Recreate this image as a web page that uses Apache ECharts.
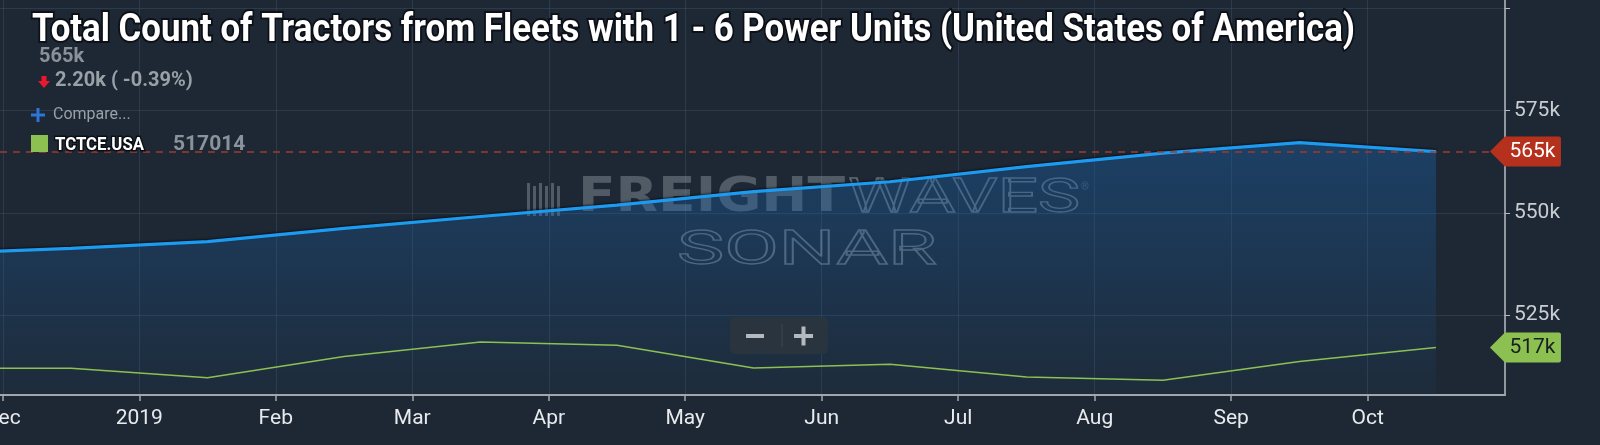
<!DOCTYPE html>
<html>
<head>
<meta charset="utf-8">
<script src="https://cdn.jsdelivr.net/npm/echarts@6/dist/echarts.min.js"></script>
<style>
  html, body { margin: 0; padding: 0; background: #1e2834; }
  #chart { width: 1600px; height: 445px; }
</style>
</head>
<body>
<div id="chart"></div>
<script>
// month tick labels, placed at slot 0..10
const monthLabels = ['Dec', '2019', 'Feb', 'Mar', 'Apr', 'May', 'Jun', 'Jul', 'Aug', 'Sep', 'Oct']
const monthTicks = [0, 1, 2, 3, 4, 5, 6, 7, 8, 9, 10]
// monthly readings sit mid-slot (Nov 2018 .. Oct 2019)
const slots = [-0.5, 0.5, 1.5, 2.5, 3.5, 4.5, 5.5, 6.5, 7.5, 8.5, 9.5, 10.5]
const tractorCount = [540000, 541300, 542950, 546200, 549100, 551900, 555200, 557600, 561300, 564600, 567200, 565000]
const tctceCount = [511900, 511950, 509650, 514800, 518400, 517600, 512000, 512900, 509800, 509000, 513600, 517014]
const yLabelTicks = [525000, 550000, 575000]
const yGridTicks = [525000, 550000, 575000, 600000]

const BG = '#1e2834'
const GRID_LINE = 'rgba(70, 95, 120, 0.35)'
const BLUE = '#1c9bf0'
const GREEN = '#8cc152'
const RED_TAG = '#b5311e'

const chart = echarts.init(document.getElementById('chart'), null, { renderer: 'canvas' })

function measure(text, font) {
  const ctx = document.createElement('canvas').getContext('2d')
  ctx.font = font
  return ctx.measureText(text).width
}

const kFmt = (v) => Math.round(v / 1000) + 'k'

const blueLast = tractorCount[tractorCount.length - 1]
const bluePrev = tractorCount[tractorCount.length - 2]
const diff = blueLast - bluePrev
const pct = diff / bluePrev * 100
const changeText = `${(Math.abs(diff) / 1000).toFixed(2)}k ( ${pct.toFixed(2)}%)`
const greenLast = tctceCount[tctceCount.length - 1]

const titleText = 'Total Count of Tractors from Fleets with 1 - 6 Power Units (United States of America)'
const titleFont = 'bold 39px Roboto'
const titleScale = 1323 / measure(titleText, titleFont)

const fwFont = 'bold 48px "DejaVu Sans"'
const fwScale = 267 / measure('FREIGHT', fwFont)
const wavesFont = 'normal 49px Roboto'
const wavesScale = 232 / measure('WAVES', wavesFont)
const sonarScale = 260 / measure('SONAR', wavesFont)

const legendFont = 'bold 18px Roboto'
const legendScale = 89 / measure('TCTCE.USA', legendFont)

const WM = 'rgba(165, 175, 185, 0.38)'
const WM_STROKE = 'rgba(175, 185, 195, 0.45)'

function textEl(x, y, text, style, extra) {
  return Object.assign({
    type: 'text', x, y, z: 10,
    style: Object.assign({ text, align: 'left', verticalAlign: 'middle', textAlign: 'left', textVerticalAlign: 'middle' }, style),
  }, extra || {})
}

const logoBars = [0, 6, 12, 18, 24, 30].map((dx, i) => ({
  type: 'rect', x: 527 + dx, y: i % 2 ? 186 : 183, z: 1,
  shape: { width: 3, height: i % 2 ? 30 : 33 },
  style: { fill: WM },
}))

const option = {
  backgroundColor: BG,
  animation: false,
  grid: { left: 0, right: 95, top: 0, bottom: 50, outerBoundsMode: 'none', containLabel: false },
  xAxis: {
    type: 'value',
    min: -0.0205,
    max: 11.006,
    axisLine: { onZero: false, lineStyle: { color: '#a3a8ae', width: 2 } },
    axisTick: { customValues: monthTicks, length: 6, lineStyle: { color: '#a3a8ae', width: 1.5 } },
    axisLabel: {
      customValues: monthTicks,
      formatter: (v) => monthLabels[Math.round(v)],
      color: '#e8eaed',
      fontFamily: 'Roboto',
      fontSize: 21,
      margin: 13,
    },
    splitLine: { show: true, lineStyle: { color: GRID_LINE } },
  },
  yAxis: {
    type: 'value',
    position: 'right',
    min: 505400,
    max: 602100,
    axisLine: { show: true, onZero: false, lineStyle: { color: '#b8bcc2', width: 1.5 } },
    axisTick: { show: true, customValues: yGridTicks, length: 5, lineStyle: { color: '#b8bcc2' } },
    axisLabel: {
      customValues: yLabelTicks,
      formatter: kFmt,
      color: '#c9cdd3',
      fontFamily: 'Roboto',
      fontSize: 21,
      margin: 9,
    },
    splitLine: { show: true, lineStyle: { color: GRID_LINE } },
  },
  series: [
    {
      name: 'Total Count of Tractors',
      type: 'line',
      data: slots.map((s, i) => [s, tractorCount[i]]),
      symbol: 'none',
      clip: false,
      z: 3,
      lineStyle: { color: BLUE, width: 3.2, shadowColor: 'rgba(0,0,0,0.6)', shadowBlur: 2, shadowOffsetY: -1 },
      itemStyle: { color: BLUE },
      areaStyle: {
        color: new echarts.graphic.LinearGradient(0, 0, 0, 1, [
          { offset: 0, color: 'rgba(25, 97, 169, 0.6)' },
          { offset: 1, color: 'rgba(25, 97, 169, 0.08)' },
        ]),
      },
      markLine: {
        silent: true,
        symbol: ['none', 'none'],
        label: { show: false },
        lineStyle: { color: '#a23a2e', type: [7, 6], width: 1.5 },
        data: [{ yAxis: blueLast }],
      },
      markPoint: {
        silent: true,
        symbol: 'path://M0,15 L15,0 L69,0 Q71,0 71,2 L71,28 Q71,30 69,30 L15,30 Z',
        symbolSize: [71, 30],
        symbolKeepAspect: false,
        itemStyle: { color: RED_TAG },
        label: { show: true, color: '#ffffff', fontFamily: 'Roboto', fontSize: 21, offset: [7, 0], formatter: () => kFmt(blueLast) },
        data: [{ coord: [slots[slots.length - 1], blueLast], symbolOffset: [89.5, 0] }],
      },
    },
    {
      name: 'TCTCE.USA',
      type: 'line',
      data: slots.map((s, i) => [s, tctceCount[i]]),
      symbol: 'none',
      clip: false,
      z: 4,
      lineStyle: { color: GREEN, width: 1.5 },
      itemStyle: { color: GREEN },
      markPoint: {
        silent: true,
        symbol: 'path://M0,15 L15,0 L69,0 Q71,0 71,2 L71,28 Q71,30 69,30 L15,30 Z',
        symbolSize: [71, 30],
        symbolKeepAspect: false,
        itemStyle: { color: GREEN },
        label: { show: true, color: '#1a1f24', fontFamily: 'Roboto', fontSize: 21, offset: [7, 0], formatter: () => kFmt(greenLast) },
        data: [{ coord: [slots[slots.length - 1], greenLast], symbolOffset: [89.5, 0] }],
      },
    },
  ],
  graphic: [
    // watermark
    ...logoBars,
    textEl(578, 199, 'FREIGHT', { font: fwFont, fill: WM }, { z: 1, scaleX: fwScale }),
    textEl(848, 200, 'WAVES', { font: wavesFont, fill: 'transparent', stroke: WM_STROKE, lineWidth: 1.3 }, { z: 1, scaleX: wavesScale }),
    textEl(1081, 187, '®', { font: 'normal 10px Roboto', fill: WM }, { z: 1 }),
    textEl(677, 252, 'SONAR', { font: wavesFont, fill: 'transparent', stroke: WM_STROKE, lineWidth: 1.3 }, { z: 1, scaleX: sonarScale }),

    // title and quote block
    textEl(32, 31, titleText, { font: titleFont, fill: '#ffffff', stroke: '#0d1117', lineWidth: 4 }, { scaleX: titleScale }),
    textEl(39, 57, kFmt(blueLast), { font: 'bold 20px Roboto', fill: '#8a9199' }),
    {
      type: 'polygon', z: 10,
      shape: { points: [[41.5, 76], [46.5, 76], [46.5, 81], [50, 81], [44, 88], [38, 81], [41.5, 81]] },
      style: { fill: '#e8192c' },
    },
    textEl(55, 81, changeText, { font: 'bold 20px Roboto', fill: '#99a0a8' }),
    { type: 'rect', z: 10, shape: { x: 31, y: 113.5, width: 14, height: 3 }, style: { fill: '#2f74d8' } },
    { type: 'rect', z: 10, shape: { x: 36.5, y: 108, width: 3, height: 14 }, style: { fill: '#2f74d8' } },
    textEl(53, 115, 'Compare...', { font: 'normal 16px Roboto', fill: '#9aa0a8' }),

    // series key
    { type: 'rect', z: 10, shape: { x: 31, y: 135, width: 17, height: 17 }, style: { fill: GREEN } },
    textEl(55, 145, 'TCTCE.USA', { font: legendFont, fill: '#ffffff', stroke: '#0b0f14', lineWidth: 3 }, { scaleX: legendScale }),
    textEl(173, 145, String(greenLast), { font: 'bold 21px Roboto', fill: '#8b929b' }),

    // zoom buttons
    { type: 'rect', z: 10, shape: { x: 730, y: 317, width: 98, height: 37, r: 5 }, style: { fill: '#29343f' } },
    { type: 'rect', z: 11, shape: { x: 746, y: 334, width: 18, height: 4 }, style: { fill: '#b4b9bf' } },
    { type: 'line', z: 11, shape: { x1: 782, y1: 324, x2: 782, y2: 347 }, style: { stroke: '#3b4653', lineWidth: 1 } },
    { type: 'rect', z: 11, shape: { x: 794, y: 334, width: 19, height: 4 }, style: { fill: '#b4b9bf' } },
    { type: 'rect', z: 11, shape: { x: 801.5, y: 326.5, width: 4, height: 19 }, style: { fill: '#b4b9bf' } },
  ],
}

chart.setOption(option)
</script>
</body>
</html>
